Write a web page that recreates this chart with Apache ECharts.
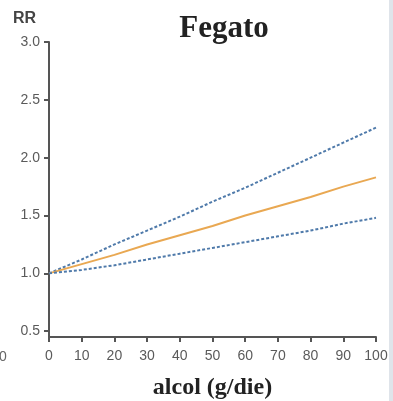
<!DOCTYPE html>
<html>
<head>
<meta charset="utf-8">
<script src="https://cdn.jsdelivr.net/npm/echarts@6/dist/echarts.min.js"></script>
<style>
  html, body { margin: 0; padding: 0; background: #dfe4ea; }
  #main { width: 389px; height: 401px; background: #fff; }
</style>
</head>
<body>
<div id="main"></div>
<script>
var chartDom = document.getElementById('main');
var myChart = echarts.init(chartDom);

// alcohol intake g/day
var alcol = [0, 10, 20, 30, 40, 50, 60, 70, 80, 90, 100];
// relative risk, central estimate and confidence band
var rr = [1.00, 1.08, 1.16, 1.25, 1.33, 1.41, 1.50, 1.58, 1.66, 1.75, 1.83];
var rrUpper = [1.00, 1.12, 1.25, 1.37, 1.49, 1.62, 1.74, 1.87, 2.00, 2.13, 2.26];
var rrLower = [1.00, 1.03, 1.07, 1.12, 1.17, 1.22, 1.27, 1.32, 1.37, 1.43, 1.48];
var yTicks = [0.5, 1.0, 1.5, 2.0, 2.5, 3.0];

function pairs(ys) {
  return alcol.map(function (x, i) { return [x, ys[i]]; });
}

var axisColor = '#555';
var labelStyle = { color: '#5a5a5a', fontFamily: 'Liberation Sans' };

var option = {
  backgroundColor: '#fff',
  animation: false,
  title: {
    text: 'Fegato',
    left: 219,
    textAlign: 'center',
    top: 8,
    textStyle: { fontFamily: 'Liberation Serif', fontWeight: 'bold', fontSize: 31, color: '#222' }
  },
  graphic: [
    { type: 'text', left: -1, top: 350, style: { text: '0', fill: '#666', fontSize: 14, fontFamily: 'Liberation Sans' } }
  ],
  grid: { left: 49, right: 13, top: 42, bottom: 64, outerBoundsMode: 'none' },
  xAxis: {
    type: 'value',
    min: 0,
    max: 100,
    interval: 10,
    name: 'alcol (g/die)',
    nameLocation: 'middle',
    nameGap: 39,
    nameTextStyle: { fontFamily: 'Liberation Serif', fontWeight: 'bold', fontSize: 24, color: '#222' },
    axisLine: { lineStyle: { color: axisColor, width: 2 } },
    axisTick: { length: 5, lineStyle: { color: axisColor, width: 2 } },
    axisLabel: Object.assign({ margin: 12, fontSize: 14 }, labelStyle),
    splitLine: { show: false }
  },
  yAxis: {
    type: 'value',
    min: 0.45,
    max: 3.0,
    name: 'RR',
    nameLocation: 'end',
    nameGap: 15,
    nameTextStyle: { align: 'right', padding: [0, 13, 0, 0], fontSize: 16, fontWeight: 'bold', color: '#444', fontFamily: 'Liberation Sans' },
    axisLine: { show: true, lineStyle: { color: axisColor, width: 2 } },
    axisTick: { show: true, length: 5, customValues: yTicks, lineStyle: { color: axisColor, width: 2 } },
    axisLabel: Object.assign({
      margin: 9,
      fontSize: 14,
      customValues: yTicks,
      formatter: function (v) { return v.toFixed(1); }
    }, labelStyle),
    splitLine: { show: false }
  },
  series: [
    {
      type: 'line',
      data: pairs(rrUpper),
      symbol: 'none',
      lineStyle: { color: '#4f7aaa', width: 2, type: [3, 2] }
    },
    {
      type: 'line',
      data: pairs(rr),
      symbol: 'none',
      lineStyle: { color: '#e9a852', width: 2 }
    },
    {
      type: 'line',
      data: pairs(rrLower),
      symbol: 'none',
      lineStyle: { color: '#4f7aaa', width: 2, type: [3, 2] }
    }
  ]
};

myChart.setOption(option);
</script>
</body>
</html>
